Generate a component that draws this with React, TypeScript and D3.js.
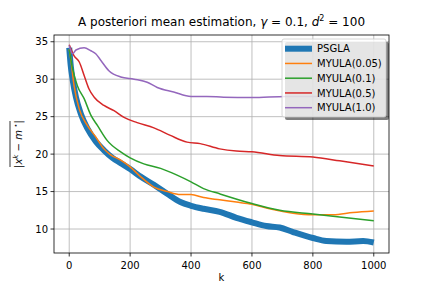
import React from "react";
import * as d3 from "d3";

// iterations (k) and mean error for each sampler
const psglaK = [0, 5, 11, 22, 38, 60, 87, 114, 142, 169, 200, 234, 278, 322, 365, 400, 441, 494, 549, 600, 647, 691, 735, 800, 844, 910, 965, 1000];
const psglaV = [34.2, 31.8, 30.0, 27.6, 25.4, 23.4, 21.7, 20.5, 19.5, 18.8, 18.0, 17.0, 15.9, 14.7, 13.6, 13.1, 12.7, 12.3, 11.5, 10.9, 10.4, 10.2, 9.6, 8.8, 8.4, 8.3, 8.4, 8.2];

const m005K = [0, 5, 16, 33, 60, 87, 114, 136, 169, 200, 234, 278, 322, 365, 400, 441, 494, 549, 600, 658, 735, 800, 866, 932, 1000];
const m005V = [34.0, 32.7, 29.1, 26.0, 23.8, 22.3, 20.7, 19.9, 19.2, 18.3, 17.0, 15.6, 15.0, 14.6, 14.6, 14.2, 13.9, 13.6, 13.3, 12.7, 12.1, 11.9, 11.9, 12.2, 12.4];

const m01K = [0, 11, 27, 49, 71, 93, 125, 169, 200, 245, 300, 354, 400, 441, 494, 600, 691, 800, 888, 1000];
const m01V = [34.0, 31.4, 29.1, 27.4, 25.2, 23.8, 21.8, 20.3, 19.5, 18.7, 18.1, 17.2, 16.3, 15.4, 14.7, 13.4, 12.5, 12.0, 11.6, 11.1];

const m05K = [0, 16, 33, 49, 65, 82, 114, 147, 180, 223, 278, 332, 387, 430, 494, 549, 600, 691, 800, 888, 1000];
const m05V = [34.6, 33.1, 32.3, 30.5, 28.7, 27.6, 26.5, 25.8, 24.9, 24.2, 23.5, 22.5, 21.6, 21.4, 20.7, 20.4, 20.3, 19.8, 19.6, 19.1, 18.4];

const m1K = [0, 11, 22, 49, 71, 87, 104, 131, 169, 213, 256, 289, 343, 400, 452, 507, 600, 712, 850, 1000];
const m1V = [34.5, 33.4, 33.9, 34.2, 33.8, 33.4, 32.5, 31.1, 30.3, 30.0, 29.6, 28.9, 28.3, 27.7, 27.7, 27.6, 27.55, 27.7, 27.7, 27.6];

const seriesNames = ["PSGLA", "MYULA(0.05)", "MYULA(0.1)", "MYULA(0.5)", "MYULA(1.0)"];
const seriesColors = ["#1f77b4", "#ff7f0e", "#2ca02c", "#d62728", "#9467bd"];
const xTicks = [0, 200, 400, 600, 800, 1000];
const yTicks = [10, 15, 20, 25, 30, 35];

const W = 432;
const H = 288;
const margin = { left: 54, right: 43, top: 35, bottom: 35 };
const font = "DejaVu Sans";

export default function App() {
  const x = d3.scaleLinear().domain([-50, 1050]).range([margin.left, W - margin.right]);
  const y = d3.scaleLinear().domain([6.8, 35.9]).range([H - margin.bottom, margin.top]);

  const all = [
    { k: psglaK, v: psglaV, w: 6 },
    { k: m005K, v: m005V, w: 1.5 },
    { k: m01K, v: m01V, w: 1.5 },
    { k: m05K, v: m05V, w: 1.5 },
    { k: m1K, v: m1V, w: 1.5 },
  ];

  const line = d3
    .line<[number, number]>()
    .x((d) => x(d[0]))
    .y((d) => y(d[1]))
    .curve(d3.curveMonotoneX);

  const [x0, x1] = x.range();
  const [y0, y1] = y.range();

  // legend box
  const lx = 282, ly = 39, lw = 104, lh = 78;

  return (
    <svg width={W} height={H} style={{ position: "absolute", left: 0, top: 0 }} fontFamily={font}>
      <rect width={W} height={H} fill="white" />
      <defs>
        <clipPath id="plot">
          <rect x={x0} y={y1} width={x1 - x0} height={y0 - y1} />
        </clipPath>
      </defs>

      {/* grid */}
      {xTicks.map((t) => (
        <line key={"gx" + t} x1={x(t)} x2={x(t)} y1={y0} y2={y1} stroke="#b0b0b0" strokeWidth={0.8} />
      ))}
      {yTicks.map((t) => (
        <line key={"gy" + t} x1={x0} x2={x1} y1={y(t)} y2={y(t)} stroke="#b0b0b0" strokeWidth={0.8} />
      ))}

      {/* curves */}
      <g clipPath="url(#plot)">
        {all.map((s, i) => (
          <path
            key={i}
            d={line(s.k.map((k, j) => [k, s.v[j]] as [number, number])) || ""}
            fill="none"
            stroke={seriesColors[i]}
            strokeWidth={s.w}
          />
        ))}
      </g>

      {/* axes frame */}
      <rect x={x0} y={y1} width={x1 - x0} height={y0 - y1} fill="none" stroke="black" strokeWidth={0.8} />

      {/* x ticks */}
      {xTicks.map((t) => (
        <g key={"tx" + t}>
          <line x1={x(t)} x2={x(t)} y1={y0} y2={y0 + 3.5} stroke="black" strokeWidth={0.8} />
          <text x={x(t)} y={y0 + 16} fontSize={10} textAnchor="middle" fill="black">
            {t}
          </text>
        </g>
      ))}
      {/* y ticks */}
      {yTicks.map((t) => (
        <g key={"ty" + t}>
          <line x1={x0 - 3.5} x2={x0} y1={y(t)} y2={y(t)} stroke="black" strokeWidth={0.8} />
          <text x={x0 - 6} y={y(t) + 3.6} fontSize={10} textAnchor="end" fill="black">
            {t}
          </text>
        </g>
      ))}

      {/* x label */}
      <text x={(x0 + x1) / 2} y={H - 7} fontSize={10} textAnchor="middle">
        k
      </text>

      {/* y label */}
      <g transform={`translate(22, ${(y0 + y1) / 2}) rotate(-90)`}>
        <text x={0} y={0} fontSize={10} textAnchor="middle">
          <tspan>|</tspan>
          <tspan fontStyle="italic">x</tspan>
          <tspan fontSize={7} fontStyle="italic" dy={-4}>k</tspan>
          <tspan dy={4}> − </tspan>
          <tspan fontStyle="italic">m</tspan>
          <tspan fontSize={7} dy={-4}> ⋆</tspan>
          <tspan dy={4}>|</tspan>
        </text>
        <line x1={-23} x2={23} y1={-12} y2={-12} stroke="black" strokeWidth={0.8} />
      </g>

      {/* title */}
      <text x={(x0 + x1) / 2} y={26} fontSize={12} textAnchor="middle">
        <tspan>A posteriori mean estimation, </tspan>
        <tspan fontStyle="italic">γ</tspan>
        <tspan> = 0.1, </tspan>
        <tspan fontStyle="italic">d</tspan>
        <tspan fontSize={8} dy={-5}>2</tspan>
        <tspan dy={5}> = 100</tspan>
      </text>

      {/* legend */}
      <rect x={lx + 3} y={ly + 3} width={lw} height={lh} rx={2} fill="black" opacity={0.5} />
      <rect x={lx} y={ly} width={lw} height={lh} rx={2} fill="white" fillOpacity={0.8} stroke="#cccccc" strokeWidth={0.8} />
      {seriesNames.map((name, i) => {
        const yy = ly + 9.7 + i * 14.75;
        return (
          <g key={name}>
            <line x1={lx + 3} x2={lx + 30} y1={yy} y2={yy} stroke={seriesColors[i]} strokeWidth={all[i].w} />
            <text x={lx + 35} y={yy + 3.6} fontSize={10} fill="black">
              {name}
            </text>
          </g>
        );
      })}
    </svg>
  );
}
